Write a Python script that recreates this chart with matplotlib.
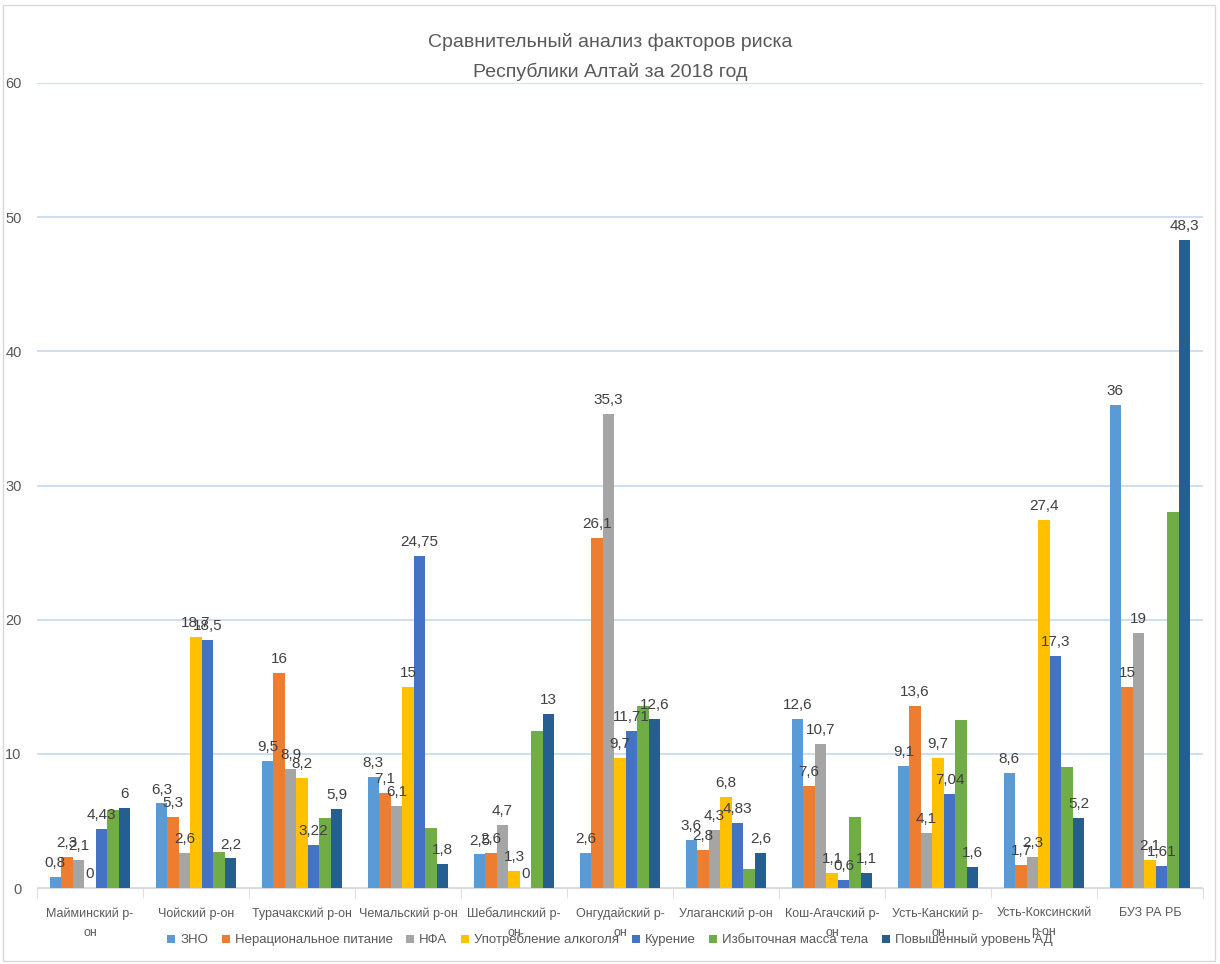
import numpy as np
import matplotlib
matplotlib.use("Agg")
import matplotlib.pyplot as plt
from matplotlib.patches import Rectangle

plt.rcParams['font.family'] = ['Liberation Sans', 'DejaVu Sans']

districts = ["Майминский р-\nон", "Чойский р-он", "Турачакский р-он", "Чемальский р-он",
             "Шебалинский р-\nон", "Онгудайский р-\nон", "Улаганский р-он",
             "Кош-Агачский р-\nон", "Усть-Канский р-\nон", "Усть-Коксинский\nр-он",
             "БУЗ РА РБ"]

series_names = ["ЗНО", "Нерациональное питание", "НФА", "Употребление алкоголя",
                "Курение", "Избыточная масса тела", "Повышенный уровень АД"]

zno      = [0.8, 6.3, 9.5, 8.3, 2.5, 2.6, 3.6, 12.6, 9.1, 8.6, 36]
nutr     = [2.3, 5.3, 16, 7.1, 2.6, 26.1, 2.8, 7.6, 13.6, 1.7, 15]
nfa      = [2.1, 2.6, 8.9, 6.1, 4.7, 35.3, 4.3, 10.7, 4.1, 2.3, 19]
alcohol  = [0, 18.7, 8.2, 15, 1.3, 9.7, 6.8, 1.1, 9.7, 27.4, 2.1]
smoking  = [4.43, 18.5, 3.22, 24.75, 0, 11.71, 4.83, 0.6, 7.04, 17.3, 1.61]
weight   = [5.8, 2.7, 5.2, 4.5, 11.7, 13.6, 1.4, 5.3, 12.5, 9.0, 28]
pressure = [6, 2.2, 5.9, 1.8, 13, 12.6, 2.6, 1.1, 1.6, 5.2, 48.3]

series = [zno, nutr, nfa, alcohol, smoking, weight, pressure]
colors = ["#5B9BD5", "#ED7D31", "#A5A5A5", "#FFC000", "#4472C4", "#70AD47", "#255E91"]
show_labels = [True, True, True, True, True, False, True]

W, H = 1220, 964
fig = plt.figure(figsize=(W / 100, H / 100), dpi=100)
ax = fig.add_axes([37 / W, 1 - 888 / H, (1203 - 37) / W, (888 - 83) / H])

x = np.arange(len(districts))
bw = 0.109
txt_color = "#595959"
for i, (vals, col) in enumerate(zip(series, colors)):
    pos = x + (i - 3) * bw
    ax.bar(pos, vals, width=bw, color=col, label=series_names[i], zorder=3)
    if show_labels[i]:
        for px, v in zip(pos, vals):
            ax.annotate(f"{v:g}".replace('.', ','), (px, v), xytext=(0, 5),
                        textcoords="offset points", ha="center", va="bottom",
                        fontsize=11, color="#404040", zorder=4)

ax.set_xlim(-0.5, len(districts) - 0.5)
ax.set_ylim(0, 60)
ax.set_yticks(range(0, 61, 10))
ax.yaxis.grid(True, color="#C6D9F0", linewidth=1.2, zorder=0)
ax.tick_params(axis='y', length=0, labelsize=10.5, labelcolor=txt_color, pad=11)
ax.set_xticks(x)
ax.set_xticklabels(districts, fontsize=9, color=txt_color, linespacing=1.75)
ax.tick_params(axis='x', length=0, pad=14)
ax.set_xticks(np.arange(-0.5, len(districts), 1), minor=True)
ax.tick_params(axis='x', which='minor', length=7, color="#D9D9D9")
for s in ["top", "right", "left"]:
    ax.spines[s].set_visible(False)
ax.spines["bottom"].set_color("#D9D9D9")

fig.text(0.5, 1 - 42 / H, "Сравнительный анализ факторов риска", ha="center",
         va="center", fontsize=14, color=txt_color)
fig.text(0.5, 1 - 72 / H, "Республики Алтай за 2018 год", ha="center",
         va="center", fontsize=14, color=txt_color)

fig.legend(loc="center", bbox_to_anchor=(0.5, 1 - 940 / H), ncol=7, frameon=False,
           fontsize=9.5, handlelength=0.6, handleheight=0.6, handletextpad=0.4,
           columnspacing=1.0, labelcolor=txt_color)

fig.patches.append(Rectangle((3 / W, 3 / H), 1 - 8 / W, 1 - 8 / H, fill=False,
                             edgecolor="#D9D9D9", linewidth=1, transform=fig.transFigure))

fig.savefig("out.png", dpi=100, facecolor="white")
